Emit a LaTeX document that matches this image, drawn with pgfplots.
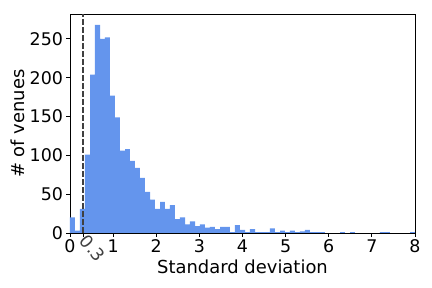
\documentclass[border=0pt]{standalone}
\usepackage{pgfplots}
\pgfplotsset{compat=1.18}
\usepackage{fontspec}
\setmainfont{DejaVu Sans}
\definecolor{cornflower}{RGB}{100,149,237}
\definecolor{dashgray}{RGB}{64,64,64}
\begin{document}
\begin{tikzpicture}
\useasboundingbox (-70bp,-55bp) rectangle (362bp,233bp);
\begin{axis}[
  scale only axis,
  width=345bp, height=219bp,
  xmin=0, xmax=8, ymin=0, ymax=282,
  xtick={0,1,2,3,4,5,6,7,8},
  ytick={0,50,100,150,200,250},
  extra x ticks={0.3},
  extra x tick labels={0.3},
  extra x tick style={
    tick label style={rotate=-50, anchor=north west, text=dashgray, xshift=-2bp, yshift=10bp}
  },
  tick align=outside,
  xtick pos=left, ytick pos=left,
  major tick length=3.5bp,
  tick style={black, line width=0.8bp},
  axis line style={black, line width=0.8bp},
  /pgf/number format/assume math mode=true,
  tick label style={font=\fontsize{17.5}{20}\selectfont},
  label style={font=\fontsize{18}{21}\selectfont},
  xlabel={Standard deviation},
  ylabel={\# of venues},
  xlabel style={at={(axis description cs:0.5,0)}, anchor=north, yshift=-23bp},
  ylabel style={yshift=-2bp},
]
\addplot[ybar interval, fill=cornflower, draw=none] coordinates {
(0,20) (0.1159,3) (0.2319,31) (0.3478,101) (0.4638,204) (0.5797,268)
(0.6957,250) (0.8116,252) (0.9275,177) (1.0435,149) (1.1594,106) (1.2754,108)
(1.3913,93) (1.5072,84) (1.6232,71) (1.7391,53) (1.8551,43) (1.9710,31)
(2.0870,40) (2.2029,31) (2.3188,36) (2.4348,18) (2.5507,20) (2.6667,11)
(2.7826,15) (2.8986,9) (3.0145,11) (3.1304,7) (3.2464,8) (3.3623,5)
(3.4783,8) (3.5942,8) (3.7101,1) (3.8261,10) (3.9420,4) (4.0580,1)
(4.1739,5) (4.2899,1) (4.4058,1) (4.5217,1) (4.6377,6) (4.7536,1)
(4.8696,3) (4.9855,1) (5.1014,3) (5.2174,1) (5.3333,2) (5.4493,4)
(5.5652,1) (5.6812,1) (5.7971,1) (5.9130,0) (6.0290,0) (6.1449,0)
(6.2609,1) (6.3768,0) (6.4928,1) (6.6087,0) (6.7246,0) (6.8406,0)
(6.9565,0) (7.0725,0) (7.1884,1) (7.3043,1) (7.4203,0) (7.5362,0)
(7.6522,0) (7.7681,0) (7.8841,1) (8.0,0)
};
\draw[dashgray, line width=1.5bp, dash pattern=on 5.5bp off 2.5bp] (axis cs:0.3,0) -- (axis cs:0.3,282);
\end{axis}
\end{tikzpicture}
\end{document}
